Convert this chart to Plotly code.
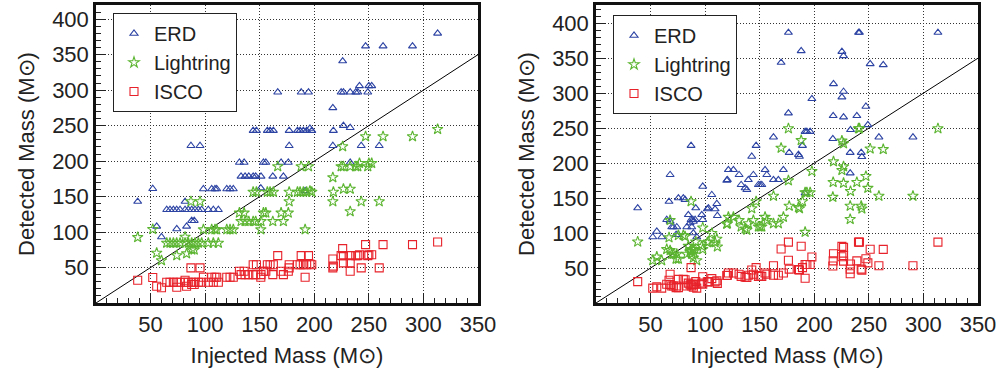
import plotly.graph_objects as go

# ---------------- data ----------------
x_ticks = [50, 100, 150, 200, 250, 300, 350]
y_ticks = [50, 100, 150, 200, 250, 300, 350, 400]
diag = [0, 350]

left_inj = [38.2, 52, 55.6, 60, 74, 83, 87.7, 90, 81.6,
            64.8, 67.8, 70.9, 73.9, 77, 81.6, 84.6, 87.7, 90.7, 93.8, 96.8, 102.9, 107.5, 112.1,
            98.4, 106, 109, 110.6, 119.8, 122.8, 125.8,
            87, 95.3,
            132.9, 136.6, 140, 144, 146.3, 151.2, 162, 171.7,
            131.4, 135.7, 153.4, 155.6, 169.6, 176.2, 232.9,
            151, 191.6,
            144, 147, 157, 159.5, 162.5, 177, 184.6, 187, 190, 193, 196, 197.7, 217.5,
            177, 217, 243, 259.5,
            217, 226.7, 232.9,
            166.5, 188, 194.7, 224.6, 226.7, 232.9, 238, 239.9, 249,
            241.4, 250, 252.6,
            226, 247, 263, 290, 313]
left_erd = [143, 161, 108, 93, 104.4, 108, 116, 116, 143,
            131.4, 131.4, 131.4, 131.4, 131.4, 131.4, 131.4, 131.4, 131.4, 131.4, 131.4, 131.4, 131.4, 131.4,
            160.7, 160.7, 160.7, 160.7, 160.7, 160.7, 160.7,
            221.6, 221.6,
            178.4, 178.4, 178.4, 178.4, 178.4, 178.4, 178.4, 178.4,
            198, 198, 198, 198, 198, 198, 198,
            162, 158,
            243, 243, 243, 243, 243, 243, 243, 243, 243, 243, 246, 243, 243,
            221.6, 221.6, 221.6, 221.6,
            275, 250, 247,
            297, 297, 297, 297, 297, 297, 297, 297, 297,
            306, 306, 306,
            341, 362, 362, 362, 380]
left_lr = [92.5, 104, 70.5, 60, 67, 69.6, 75, 75, 93,
           84.6, 84.6, 84.6, 84.6, 84.6, 84.6, 84.6, 84.6, 84.6, 84.6, 84.6, 84.6, 84.6, 84.6,
           103.4, 103.4, 103.4, 103.4, 103.4, 103.4, 103.4,
           143, 143,
           115, 115, 115, 115, 115, 115, 115, 115,
           127, 127, 127, 127, 127, 127, 129,
           103.4, 103.4,
           156.5, 156.5, 156.5, 156.5, 156.5, 156.5, 156.5, 156.5, 156.5, 156.5, 158, 156.5, 156.5,
           143, 143, 143, 143,
           177, 160.7, 160.7,
           192.5, 192.5, 192.5, 192.5, 192.5, 192.5, 192.5, 192.5, 192.5,
           197, 197, 197,
           220.6, 234.7, 234.7, 234.7, 245]
left_isco = [32, 36, 23.6, 21.4, 22.3, 23.6, 26, 26, 32,
             29.3, 29.3, 29.3, 29.3, 29.3, 29.3, 29.3, 29.3, 29.3, 29.3, 29.3, 29.3, 29.3, 29.3,
             36.3, 36.3, 36.3, 36.3, 36.3, 36.3, 36.3,
             49.5, 49.5,
             40, 40, 40, 40, 40, 40, 40, 40,
             44.7, 44.7, 44.7, 44.7, 44.7, 44.7, 44.7,
             36.3, 36.3,
             54, 54, 54, 54, 54, 54, 54, 54, 54, 54, 55, 54, 52,
             49.5, 49.5, 49.5, 49.5,
             62, 56.5, 56.5,
             66.8, 66.8, 66.8, 66.8, 66.8, 66.8, 66.8, 66.8, 66.8,
             68, 68, 68,
             76.7, 82.3, 82.3, 82.3, 86]

right_inj = [38.2, 52, 55.7, 60.2, 64.8, 66.9, 67.9, 67.9, 69.4, 70.9,
             73.4, 74, 75.5, 75.5, 80, 81.6, 83.2, 84.6, 86.2, 87.1,
             87.7, 88.7, 89.2, 89.2, 90.8, 91.4, 92.3, 96.9, 97.8, 97.8,
             102, 103, 106.1, 109.1, 110.7, 111.2, 87.1, 119.8, 120.4, 121.3,
             125.9, 131.1, 133, 136.6, 138.2, 139.6, 142.7, 144.2, 146.7, 148.8,
             150.4, 151.9, 154.9, 156.5, 162.6, 162.6, 167.1, 169.6, 171.7, 176.3,
             176.3, 177, 185.5, 186.4, 188, 189.2, 191.6, 191.6, 193.2, 196.2,
             197.8, 217, 217.3, 217.6, 225.3, 225.3, 226.8, 226.8, 226.8, 232.9,
             232.9, 233.2, 239, 240.5, 241.4, 243, 243.6, 247.3, 249.1, 251.2,
             259.2, 263.2, 290.4, 313.3]
right_erd = [135.7, 94.3, 102.3, 94.3, 119, 145, 183.3, 116.6, 108.6, 108.6,
             97.6, 108.6, 97.6, 150, 150, 147.6, 108.6, 126.1, 114.3, 119,
             108.6, 119, 116.6, 100, 119, 135.7, 94.3, 126.1, 119, 166.6,
             134.3, 135.7, 154.7, 134.3, 141.9, 124.7, 225, 175.1, 176.1, 190.4,
             190.4, 183.3, 169, 164.3, 161.9, 176.1, 209.4, 183.3, 225, 169,
             169, 169, 190.4, 183.3, 176.1, 237, 176.1, 343.7, 190.4, 386.6,
             271.4, 215, 212, 209.4, 360.4, 225, 157, 245, 245, 245,
             291.9, 234.7, 267.6, 313.3, 359.4, 294.3, 353.3, 302.3, 265.7, 215,
             185.7, 247.6, 267.6, 386.6, 386.6, 215, 209, 280.9, 254.7, 341.9,
             237, 340.4, 237, 386.6]
right_lr = [87.5, 60.8, 66, 60.8, 76.8, 93.5, 118.2, 75.2, 70, 70,
            63, 70, 63, 96.8, 96.8, 95.2, 70, 81.3, 73.7, 76.8,
            70, 76.8, 75.2, 64.5, 76.8, 87.5, 60.8, 81.3, 76.8, 107.5,
            86.6, 87.5, 99.8, 86.6, 91.5, 80.4, 145.1, 112.9, 113.6, 122.8,
            122.8, 118.2, 109, 106, 104.4, 113.6, 135.1, 118.2, 145.1, 109,
            109, 109, 122.8, 118.2, 113.6, 152.9, 113.6, 221.7, 122.8, 249.4,
            175, 138.7, 136.7, 135.1, 232.5, 145.1, 101.3, 158, 158, 158,
            188.3, 151.4, 172.6, 202.1, 231.8, 189.8, 227.9, 195, 171.4, 138.7,
            119.8, 159.7, 172.6, 249.4, 249.4, 138.7, 134.8, 181.2, 164.3, 220.5,
            152.9, 219.6, 152.9, 249.4]
right_isco = [30.5, 21.2, 23, 21.2, 26.8, 32.6, 41.2, 26.2, 24.4, 24.4,
              22, 24.4, 22, 33.8, 33.8, 33.2, 24.4, 28.4, 25.7, 26.8,
              24.4, 26.8, 26.2, 22.5, 26.8, 30.5, 21.2, 28.4, 26.8, 37.5,
              30.2, 30.5, 34.8, 30.2, 31.9, 28.1, 50.6, 39.4, 39.6, 42.8,
              42.8, 41.2, 38, 37, 36.4, 39.6, 47.1, 41.2, 50.6, 38,
              38, 38, 42.8, 41.2, 39.6, 53.3, 39.6, 77.3, 42.8, 87,
              61.1, 48.4, 47.7, 47.1, 81.1, 50.6, 35.3, 55.1, 55.1, 55.1,
              65.7, 52.8, 60.2, 70.5, 80.9, 66.2, 79.5, 68, 59.8, 48.4,
              41.8, 55.7, 60.2, 87, 87, 48.4, 47, 63.2, 57.3, 76.9,
              53.3, 76.6, 53.3, 87]

series_names = ["ERD", "Lightring", "ISCO"]

# ---------------- style ----------------
FONT = "Liberation Sans, Arial, Helvetica, sans-serif"
BLUE = "#2c43a3"
GREEN = "#5cb531"
RED = "#e8222a"
symbols = ["triangle-up-open", "star-open", "square-open"]
colors = [BLUE, GREEN, RED]
sizes = [7, 8, 8]

fig = go.Figure()

panels = [
    ("x", "y", "legend", left_inj, [left_erd, left_lr, left_isco]),
    ("x2", "y2", "legend2", right_inj, [right_erd, right_lr, right_isco]),
]
for xa, ya, lg, xs, ys_list in panels:
    fig.add_trace(go.Scatter(x=diag, y=diag, mode="lines", xaxis=xa, yaxis=ya,
                             line=dict(color="black", width=1), showlegend=False,
                             hoverinfo="skip"))
    for name, ys, sym, col, sz in zip(series_names, ys_list, symbols, colors, sizes):
        fig.add_trace(go.Scatter(x=xs, y=ys, mode="markers", name=name,
                                 xaxis=xa, yaxis=ya, legend=lg,
                                 marker=dict(symbol=sym, color=col, size=sz,
                                             line=dict(color=col, width=1.1))))

W, H = 997, 371
xd1 = [96 / W, 478 / W]
xd2 = [596 / W, 978 / W]
yd = [68 / H, 366 / H]

GRID_DASH = "1px,2px"

def xaxis_cfg(domain, anchor):
    return dict(domain=domain, anchor=anchor, range=[0, 350], tickvals=x_ticks,
                ticks="inside", ticklen=10, tickwidth=1, tickcolor="#222",
                showline=True, linewidth=2.5, linecolor="#111", mirror=True,
                showgrid=True, gridcolor="#333", griddash=GRID_DASH, gridwidth=1,
                zeroline=False,
                minor=dict(dtick=10, tick0=0, ticks="inside", ticklen=5,
                           tickcolor="#222", showgrid=False),
                tickfont=dict(family=FONT, size=22, color="#222"),
                title=dict(text="Injected Mass (M\u2299)",
                           font=dict(family=FONT, size=22, color="#222"), standoff=12),
                automargin=False)

def yaxis_cfg(anchor, top):
    return dict(domain=yd, anchor=anchor, range=[0, top], tickvals=y_ticks,
                ticks="inside", ticklen=10, tickwidth=1, tickcolor="#222",
                showline=True, linewidth=2.5, linecolor="#111", mirror=True,
                showgrid=True, gridcolor="#333", griddash=GRID_DASH, gridwidth=1,
                zeroline=False,
                minor=dict(dtick=10, tick0=0, ticks="inside", ticklen=5,
                           tickcolor="#222", showgrid=False),
                tickfont=dict(family=FONT, size=22, color="#222"),
                title=dict(text="Detected Mass (M\u2299)",
                           font=dict(family=FONT, size=22, color="#222"), standoff=12),
                automargin=False)

legend_common = dict(bgcolor="white", bordercolor="#222", borderwidth=1,
                     font=dict(family=FONT, size=20, color="#222"),
                     xanchor="left", yanchor="top", traceorder="normal")

fig.update_layout(
    width=W, height=H,
    margin=dict(l=0, r=0, t=0, b=0),
    paper_bgcolor="white", plot_bgcolor="white",
    xaxis=xaxis_cfg(xd1, "y"),
    yaxis=yaxis_cfg("x", 420),
    xaxis2=xaxis_cfg(xd2, "y2"),
    yaxis2=yaxis_cfg("x2", 426),
    legend=dict(x=113 / W, y=1 - 13 / H, **legend_common),
    legend2=dict(x=613 / W, y=1 - 15 / H, **legend_common),
)

fig.write_html("out.html")
